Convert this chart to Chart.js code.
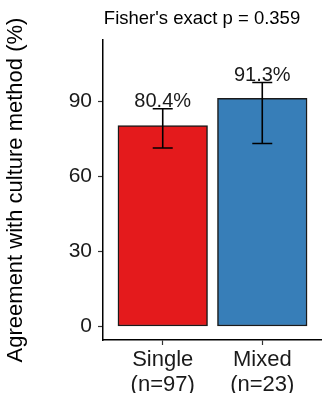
<!DOCTYPE html>
<html>
<head>
<meta charset="utf-8">
<script src="https://cdn.jsdelivr.net/npm/chart.js@4"></script>
<style>
  html, body { margin: 0; padding: 0; background: #ffffff; }
  #wrap { width: 322px; height: 393px; position: relative; }
</style>
</head>
<body>
<div id="wrap"><canvas id="c" width="322" height="393"></canvas></div>
<script>
// Agreement with culture method, by infection type
const groups = ['Single', 'Mixed'];
const groupN = ['(n=97)', '(n=23)'];
const positions = [1, 2];
const agreement = [80.4, 91.3];
const ciLower = [71.4, 73.2];
const ciUpper = [87.1, 97.6];
const valueLabels = ['80.4%', '91.3%'];
const yTicks = [0, 30, 60, 90];
const barColors = ['#E41A1C', '#377EB8'];
const titleText = "Fisher's exact p = 0.359";

const FONT = "'Liberation Sans', Arial, Helvetica, sans-serif";

// 95% CI whiskers and percentage labels above them
const errorBarPlugin = {
  id: 'errorBars',
  afterDatasetsDraw(chart) {
    const ctx = chart.ctx;
    const xs = chart.scales.x, ys = chart.scales.y;
    ctx.save();
    ctx.strokeStyle = '#000000';
    ctx.lineWidth = 1.6;
    const half = 10;
    positions.forEach((p, i) => {
      const x = xs.getPixelForValue(p);
      const yl = ys.getPixelForValue(ciLower[i]);
      const yu = ys.getPixelForValue(ciUpper[i]);
      ctx.beginPath();
      ctx.moveTo(x, yl); ctx.lineTo(x, yu);
      ctx.moveTo(x - half, yl); ctx.lineTo(x + half, yl);
      ctx.moveTo(x - half, yu); ctx.lineTo(x + half, yu);
      ctx.stroke();
      ctx.fillStyle = '#1a1a1a';
      ctx.font = '20px ' + FONT;
      ctx.textAlign = 'center';
      ctx.textBaseline = 'alphabetic';
      ctx.fillText(valueLabels[i], x, yu - 2);
    });
    ctx.restore();
  }
};

// Plot title centred over the panel
const titlePlugin = {
  id: 'panelTitle',
  afterDraw(chart) {
    const ctx = chart.ctx;
    const a = chart.chartArea;
    ctx.save();
    ctx.fillStyle = '#000000';
    ctx.font = '18.5px ' + FONT;
    ctx.textAlign = 'center';
    ctx.textBaseline = 'alphabetic';
    ctx.fillText(titleText, a.left + 99, 24);
    ctx.restore();
  }
};

// Bars span 90% of one category unit
function barWidth(c) {
  const xs = c.chart.scales.x;
  if (!xs) return 90;
  return 0.9 * Math.abs(xs.getPixelForValue(2) - xs.getPixelForValue(1));
}

new Chart(document.getElementById('c'), {
  type: 'bar',
  data: {
    datasets: [{
      data: positions.map((p, i) => ({ x: p, y: agreement[i] })),
      backgroundColor: barColors,
      borderColor: '#1a1a1a',
      borderWidth: 1.5,
      borderSkipped: false,
      barThickness: barWidth
    }]
  },
  options: {
    responsive: false,
    animation: false,
    layout: { padding: { top: 40, left: 0, right: 0, bottom: 0 } },
    plugins: {
      legend: { display: false },
      tooltip: { enabled: false },
      title: { display: false }
    },
    scales: {
      x: {
        type: 'linear',
        offset: false,
        min: 0.4,
        max: 2.6,
        afterBuildTicks(s) { s.ticks = positions.map(v => ({ value: v })); },
        afterFit(s) { s.height = 53; },
        ticks: {
          autoSkip: false,
          maxRotation: 0,
          color: '#1a1a1a',
          font: { family: FONT, size: 22, lineHeight: 1.12 },
          padding: 3,
          callback(v) {
            const i = positions.indexOf(v);
            return i >= 0 ? [groups[i], groupN[i]] : '';
          }
        },
        grid: {
          display: true,
          offset: false,
          drawOnChartArea: false,
          drawTicks: true,
          tickLength: 5,
          tickColor: '#333333',
          tickWidth: 1.2
        },
        border: { display: true, color: '#000000', width: 1.5 }
      },
      y: {
        min: -5.4,
        max: 114.6,
        afterBuildTicks(s) { s.ticks = yTicks.map(v => ({ value: v })); },
        afterFit(s) { s.width = 103; },
        ticks: {
          color: '#1a1a1a',
          font: { family: FONT, size: 21 },
          padding: 6
        },
        grid: {
          display: true,
          drawOnChartArea: false,
          drawTicks: true,
          tickLength: 5,
          tickColor: '#333333',
          tickWidth: 1.2
        },
        border: { display: true, color: '#000000', width: 1.5 },
        title: {
          display: true,
          text: 'Agreement with culture method (%)',
          color: '#000000',
          font: { family: FONT, size: 22 },
          padding: { top: 3, bottom: 0 }
        }
      }
    }
  },
  plugins: [errorBarPlugin, titlePlugin]
});
</script>
</body>
</html>
